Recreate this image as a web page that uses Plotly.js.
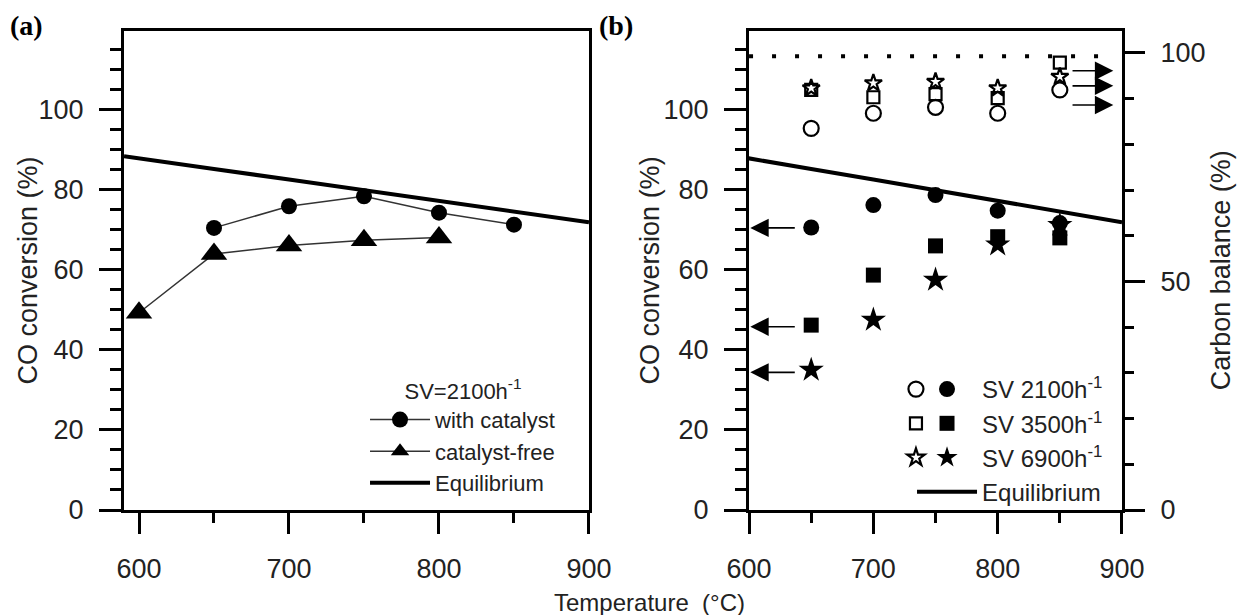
<!DOCTYPE html>
<html>
<head>
<meta charset="utf-8">
<script src="https://cdn.plot.ly/plotly-3.0.1.min.js"></script>
<style>html,body{margin:0;padding:0;background:#fff;}#chart{width:1238px;height:615px;}</style>
</head>
<body>
<div id="chart"></div>
<script>
// ---------- data ----------
// Panel (a): SV = 2100 h-1
const tempA = [600, 650, 700, 750, 800, 850];
const withCatalyst = [null, 70.5, 75.9, 78.4, 74.3, 71.3];
const catalystFree = [49.3, 64.0, 66.1, 67.4, 68.1, null];

// Equilibrium CO conversion
const eqTemp = [590, 600, 650, 700, 750, 800, 850, 900];
const eqConv = [88.4, 87.9, 85.2, 82.6, 79.9, 77.2, 74.5, 71.9];

// Panel (b)
const tempB = [650, 700, 750, 800, 850];
// CO conversion (%) – filled symbols, left axis
const conv2100 = [70.6, 76.2, 78.7, 74.8, 71.7];
const conv3500 = [46.2, 58.7, 66.0, 68.3, 68.0];
const conv6900 = [35.0, 47.5, 57.5, 66.3, 71.2];
// Carbon balance (%) – open symbols, right axis
const cb2100 = [83.5, 86.8, 88.1, 86.8, 91.9];
const cb3500 = [91.9, 90.3, 91.0, 90.1, 97.9];
const cb6900 = [92.3, 93.4, 93.7, 92.3, 94.8];
// 100 % carbon-balance reference (dotted)
const refTemp = [600, 885];
const refBalance = [99.3, 99.3];

// Axis-pointing arrows (data levels)
const leftArrowLevels = [70.5, 45.8, 34.4];   // CO conversion
const rightArrowLevels = [96.1, 92.8, 88.6];  // carbon balance

const xTicks = [600, 700, 800, 900];
const seriesNames = ['SV 2100h<sup>-1</sup>', 'SV 3500h<sup>-1</sup>', 'SV 6900h<sup>-1</sup>'];

// ---------- styling ----------
const FONT = 'Liberation Sans, Arial, sans-serif';
const TXT = '#222';
const K = '#000';

const traces = [];
// Panel (a)
traces.push({x: tempA, y: withCatalyst, xaxis: 'x', yaxis: 'y', type: 'scatter', mode: 'lines+markers',
  name: 'with catalyst', legend: 'legend', legendrank: 1, connectgaps: false,
  line: {color: '#333', width: 1.5}, marker: {symbol: 'circle', size: 16, color: K}});
traces.push({x: tempA, y: catalystFree, xaxis: 'x', yaxis: 'y', type: 'scatter', mode: 'lines+markers',
  name: 'catalyst-free', legend: 'legend', legendrank: 2,
  line: {color: '#333', width: 1.5}, marker: {symbol: 'triangle-up', size: 23, color: K}});
traces.push({x: eqTemp, y: eqConv, xaxis: 'x', yaxis: 'y', type: 'scatter', mode: 'lines',
  name: 'Equilibrium', legend: 'legend', legendrank: 3, line: {color: K, width: 4}});

// Panel (b)
traces.push({x: refTemp, y: refBalance, xaxis: 'x2', yaxis: 'y3', type: 'scatter', mode: 'lines',
  showlegend: false, line: {color: K, width: 4, dash: '4px,19px'}});
const filledSym = ['circle', 'square', 'star'];
const filledSize = [16, 15, 19];
const openSize = [15, 12, 13];
const convSets = [conv2100, conv3500, conv6900];
const cbSets = [cb2100, cb3500, cb6900];
for (let i = 0; i < 3; i++) {
  traces.push({x: tempB, y: cbSets[i], xaxis: 'x2', yaxis: 'y3', type: 'scatter', mode: 'markers',
    name: '\u00a0', legend: 'legend3', legendrank: i + 1,
    marker: {symbol: filledSym[i] + '-open', size: openSize[i], color: K, line: {color: K, width: 2.2}}});
}
for (let i = 0; i < 3; i++) {
  traces.push({x: tempB, y: convSets[i], xaxis: 'x2', yaxis: 'y2', type: 'scatter', mode: 'markers',
    name: seriesNames[i], legend: 'legend2', legendrank: i + 1,
    marker: {symbol: filledSym[i], size: filledSize[i], color: K}});
}
traces.push({x: eqTemp, y: eqConv, xaxis: 'x2', yaxis: 'y2', type: 'scatter', mode: 'lines',
  name: 'Equilibrium', legend: 'legend2', legendrank: 4, line: {color: K, width: 4}});

const tickFont = {family: FONT, size: 27, color: TXT};
function xAxis(domain, range, anchor) {
  return {domain: domain, range: range, anchor: anchor, tickvals: xTicks, ticktext: xTicks.map(String),
    showline: true, linewidth: 3, linecolor: K, mirror: true, ticks: 'outside', ticklen: 21, tickwidth: 3,
    tickcolor: K, minor: {dtick: 50, tick0: 600, ticks: 'outside', ticklen: 10, tickwidth: 3, tickcolor: K},
    showgrid: false, zeroline: false, tickfont: tickFont, ticklabelstandoff: 12};
}
function yAxisLeft(anchor, mirror) {
  return {domain: [0, 1], range: [0, 119.7], anchor: anchor, dtick: 20, tick0: 0,
    showline: true, linewidth: 3, linecolor: K, mirror: mirror, ticks: 'outside', ticklen: 22, tickwidth: 3,
    tickcolor: K, minor: {dtick: 5, ticks: 'outside', ticklen: 11, tickwidth: 3, tickcolor: K},
    showgrid: false, zeroline: false, tickfont: tickFont, ticklabelstandoff: 10};
}

const ann = [];
const textFont = {family: FONT, size: 27, color: TXT};
const serif = {family: 'Liberation Serif, Times New Roman, serif', size: 28, color: K};
ann.push({xref: 'paper', yref: 'paper', x: -0.116, y: 1.012, xanchor: 'left', yanchor: 'middle', showarrow: false,
  text: '<b>(a)</b>', font: serif});
ann.push({xref: 'paper', yref: 'paper', x: 0.474, y: 1.012, xanchor: 'left', yanchor: 'middle', showarrow: false,
  text: '<b>(b)</b>', font: serif});
ann.push({xref: 'paper', yref: 'paper', x: -0.0962, y: 0.5, xanchor: 'center', yanchor: 'middle', showarrow: false,
  textangle: -90, text: 'CO conversion (%)', font: textFont});
ann.push({xref: 'paper', yref: 'paper', x: 0.527, y: 0.5, xanchor: 'center', yanchor: 'middle', showarrow: false,
  textangle: -90, text: 'CO conversion (%)', font: textFont});
ann.push({xref: 'paper', yref: 'paper', x: 1.099, y: 0.5, xanchor: 'center', yanchor: 'middle', showarrow: false,
  textangle: -90, text: 'Carbon balance (%)', font: textFont});
ann.push({xref: 'paper', yref: 'paper', x: 0.527, y: -0.194, xanchor: 'center', yanchor: 'middle', showarrow: false,
  text: 'Temperature&nbsp;&nbsp;(°C)', font: {family: FONT, size: 24, color: TXT}});
leftArrowLevels.forEach(v => ann.push({xref: 'x2', yref: 'y2', axref: 'x2', ayref: 'y2', x: 601, y: v, ax: 638, ay: v,
  text: '', showarrow: true, arrowhead: 2, arrowsize: 2.3, arrowwidth: 1.6, arrowcolor: K}));
rightArrowLevels.forEach(v => ann.push({xref: 'x2', yref: 'y3', axref: 'x2', ayref: 'y3', x: 893, y: v, ax: 859, ay: v,
  text: '', showarrow: true, arrowhead: 2, arrowsize: 2.3, arrowwidth: 1.6, arrowcolor: K}));

const legendFontA = {family: FONT, size: 22, color: TXT};
const legendFontB = {family: FONT, size: 24, color: TXT};
const layout = {
  width: 1238, height: 615, margin: {l: 124, r: 116, t: 31, b: 105},
  paper_bgcolor: '#fff', plot_bgcolor: '#fff',
  xaxis: xAxis([0, 0.4659], [590, 900], 'y'),
  yaxis: yAxisLeft('x', true),
  xaxis2: xAxis([0.6263, 1], [600, 900], 'y2'),
  yaxis2: yAxisLeft('x2', false),
  yaxis3: {overlaying: 'y2', side: 'right', anchor: 'x2', range: [0, 104.8], dtick: 50, tick0: 0,
    showline: true, linewidth: 3, linecolor: K, ticks: 'outside', ticklen: 20, tickwidth: 3, tickcolor: K,
    minor: {dtick: 10, ticks: 'outside', ticklen: 9, tickwidth: 3, tickcolor: K},
    showgrid: false, zeroline: false, tickfont: tickFont, ticklabelstandoff: 10},
  legend: {x: 0.2415, y: 0.292, xanchor: 'left', yanchor: 'top', bgcolor: 'rgba(0,0,0,0)', font: legendFontA,
    itemwidth: 60, tracegroupgap: 0, title: {text: 'SV=2100h<sup>-1</sup>', side: 'top center', font: legendFontA}},
  legend2: {x: 0.7896, y: 0.2985, xanchor: 'left', yanchor: 'top', bgcolor: 'rgba(0,0,0,0)', font: legendFontB,
    itemwidth: 60, tracegroupgap: 0},
  legend3: {x: 0.7735, y: 0.2985, xanchor: 'left', yanchor: 'top', bgcolor: 'rgba(0,0,0,0)', font: legendFontB,
    itemwidth: 30, tracegroupgap: 0},
  annotations: ann,
  showlegend: true
};

Plotly.newPlot('chart', traces, layout, {displayModeBar: false, staticPlot: true});
</script>
</body>
</html>
